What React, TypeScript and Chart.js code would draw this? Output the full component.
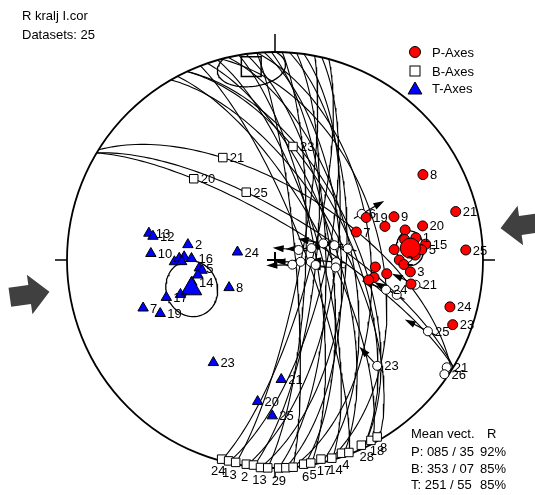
import React, { useEffect, useRef } from "react";
import { Chart, registerables } from "chart.js";

Chart.register(...registerables);

// ---------- header ----------
const fileName = "R kralj I.cor";
const datasetCount = 25;

// ---------- fault planes (great circles): dip direction / dip ----------
const planeDipDirs = [105, 103, 101, 98, 96, 94, 92, 89, 87, 85, 82, 80, 77, 74, 71, 69, 65, 62, 60, 75, 85, 31, 32, 65, 31];
const planeDips = [76, 70, 80, 66, 74, 62, 78, 70, 64, 82, 68, 74, 60, 72, 66, 78, 58, 70, 64, 48, 52, 76, 62, 60, 72];

// ---------- P-axes: trend / plunge / label ----------
const pTrends = [65, 73, 70, 71, 77, 77, 81, 84, 90, 92, 94, 95, 100, 102, 100, 105, 110, 75, 87, 60, 81, 88, 85, 86, 97];
const pPlunges = [50, 44, 39, 56, 36, 28, 32, 28, 40, 38, 50, 35, 50, 52, 34, 14, 10, 11, 9, 19, 37, 33, 42, 30, 45];
const pLabels = ["19", "", "9", "7", "", "20", "1", "15", "2", "", "", "3", "", "", "", "24", "23", "21", "25", "8", "", "", "", "5", ""];

// ---------- T-axes ----------
const tTrends = [282, 281, 273, 280, 269, 271, 272, 269, 271, 264, 262, 259, 255, 250, 251, 250, 245, 282, 239, 211, 177, 187, 181];
const tPlunges = [38, 40, 40, 55, 50, 52, 54, 53, 57, 60, 61, 59, 56, 50, 44, 33, 39, 75, 69, 42, 42, 32, 26];
const tLabels = ["13", "12", "10", "2", "", "", "", "", "16", "5", "", "", "14", "", "17", "7", "19", "24", "8", "23", "21", "20", "25"];

// ---------- B-axes ----------
const bTrends = [333, 315, 337, 9, 195, 193, 191, 188, 186, 184, 182, 179, 177, 175, 172, 170, 167, 164, 161, 159, 155, 152, 150];
const bPlunges = [44, 44, 61, 44, 1, 1, 1, 1, 1, 0, 0, 0, 0, 0, 1, 1, 2, 1, 2, 1, 2, 2, 2];
const bLabels = ["21", "20", "25", "23", "24", "1", "3", "2", "", "13", "", "29", "", "", "6", "5", "17", "14", "4", "", "28", "18", "8"];

// ---------- striae (slip lineations) ----------
const sTrends = [67, 72, 71, 76, 81, 94, 93, 92, 105, 97, 97, 62, 105, 106, 100, 136, 115, 122, 124];
const sPlunges = [80, 75, 70, 66, 61, 80, 76, 66, 83, 74, 66, 51, 44, 39, 32, 30, 20, 3, 2];
const sSlipAz = [275, 268, 280, 265, 285, 270, 262, 275, 268, 280, 272, 60, 290, 300, 295, 317, 297, null, null];
const sLabels = ["", "", "", "", "", "", "", "", "", "", "", "6", "24", "", "21", "23", "25", "21", "26"];

// ---------- mean vectors ----------
const meanNames = ["P", "B", "T"];
const meanTrends = [85, 353, 251];
const meanPlunges = [35, 7, 55];
const meanR = [92, 85, 85];
const coneAngles = [6, 10, 10.5];
const shorteningAz = 82;

const rad = Math.PI / 180;
const FONT = '13px "Liberation Sans", Arial, sans-serif';

function project(trend: number, plunge: number) {
  let t = trend;
  let p = plunge;
  if (p < 0) {
    p = -p;
    t += 180;
  }
  const r = Math.SQRT2 * Math.sin(((90 - p) * rad) / 2);
  return { x: r * Math.sin(t * rad), y: r * Math.cos(t * rad) };
}
function toVec(trend: number, plunge: number) {
  return [
    Math.cos(plunge * rad) * Math.cos(trend * rad),
    Math.cos(plunge * rad) * Math.sin(trend * rad),
    Math.sin(plunge * rad),
  ];
}
function fromVec(v: number[]) {
  const plunge = Math.asin(Math.max(-1, Math.min(1, v[2]))) / rad;
  const trend = Math.atan2(v[1], v[0]) / rad;
  return { trend, plunge };
}
function greatCircle(dd: number, dip: number) {
  const S = toVec(dd - 90, 0);
  const D = toVec(dd, dip);
  const pts: { x: number; y: number }[] = [];
  for (let l = 0; l <= 180; l += 2) {
    const c = Math.cos(l * rad);
    const s = Math.sin(l * rad);
    const v = [c * S[0] + s * D[0], c * S[1] + s * D[1], c * S[2] + s * D[2]];
    const o = fromVec(v);
    pts.push(project(o.trend, o.plunge));
  }
  return pts;
}
function smallCircle(trend: number, plunge: number, alpha: number) {
  const a = toVec(trend, plunge);
  const u = toVec(trend, plunge - 90);
  const w = [a[1] * u[2] - a[2] * u[1], a[2] * u[0] - a[0] * u[2], a[0] * u[1] - a[1] * u[0]];
  const ca = Math.cos(alpha * rad);
  const sa = Math.sin(alpha * rad);
  const pts: { x: number; y: number }[] = [];
  for (let f = 0; f <= 360; f += 4) {
    const cf = Math.cos(f * rad);
    const sf = Math.sin(f * rad);
    const v = [0, 1, 2].map((k) => ca * a[k] + sa * (cf * u[k] + sf * w[k]));
    if (v[2] < 0) {
      pts.push({ x: NaN, y: NaN });
    } else {
      const o = fromVec(v);
      pts.push(project(o.trend, o.plunge));
    }
  }
  return pts;
}

function geom(chart: any) {
  const xs = chart.scales.x;
  const ys = chart.scales.y;
  const cx = xs.getPixelForValue(0);
  const cy = ys.getPixelForValue(0);
  const R = xs.getPixelForValue(1) - cx;
  return { cx, cy, R };
}

function drawTriangle(ctx: CanvasRenderingContext2D, x: number, y: number, r: number) {
  ctx.beginPath();
  ctx.moveTo(x, y - r);
  ctx.lineTo(x + r * Math.sin(120 * rad), y - r * Math.cos(120 * rad));
  ctx.lineTo(x + r * Math.sin(240 * rad), y - r * Math.cos(240 * rad));
  ctx.closePath();
}

const stereoPlugin = {
  id: "stereo",
  beforeDatasetsDraw(chart: any) {
    const { ctx } = chart;
    const { cx, cy, R } = geom(chart);
    ctx.save();
    ctx.strokeStyle = "#000";
    ctx.lineWidth = 1.8;
    ctx.beginPath();
    ctx.arc(cx, cy, R, 0, Math.PI * 2);
    ctx.stroke();
    ctx.lineWidth = 1.5;
    ctx.beginPath();
    ctx.moveTo(cx, cy - R);
    ctx.lineTo(cx, cy - R - 18);
    ctx.moveTo(cx - R, cy);
    ctx.lineTo(cx - R - 12, cy);
    ctx.moveTo(cx + R, cy);
    ctx.lineTo(cx + R + 12, cy);
    ctx.moveTo(cx, cy + R);
    ctx.lineTo(cx, cy + R + 10);
    ctx.stroke();
    ctx.restore();
  },
  beforeDatasetDraw(chart: any, args: any) {
    const ds = chart.data.datasets[args.index];
    if (!ds.slipAz) return;
    const { ctx } = chart;
    const meta = chart.getDatasetMeta(args.index);
    ctx.save();
    ctx.strokeStyle = "#000";
    ctx.fillStyle = "#000";
    ctx.lineWidth = 1.2;
    meta.data.forEach((el: any, i: number) => {
      const az = ds.slipAz[i];
      if (az === null || az === undefined) return;
      const ux = Math.sin(az * rad);
      const uy = -Math.cos(az * rad);
      const px = -uy;
      const py = ux;
      ctx.beginPath();
      ctx.moveTo(el.x - ux * 9, el.y - uy * 9);
      ctx.lineTo(el.x + ux * 20, el.y + uy * 20);
      ctx.stroke();
      ctx.beginPath();
      ctx.moveTo(el.x + ux * 26, el.y + uy * 26);
      ctx.lineTo(el.x + ux * 15 + px * 3.5, el.y + uy * 15 + py * 3.5);
      ctx.lineTo(el.x + ux * 15 - px * 3.5, el.y + uy * 15 - py * 3.5);
      ctx.closePath();
      ctx.fill();
    });
    ctx.restore();
  },
  afterDatasetsDraw(chart: any) {
    const { ctx } = chart;
    const { cx, cy, R } = geom(chart);
    ctx.save();
    // centre cross
    ctx.strokeStyle = "#000";
    ctx.lineWidth = 2;
    ctx.beginPath();
    ctx.moveTo(cx - 8, cy);
    ctx.lineTo(cx + 8, cy);
    ctx.moveTo(cx, cy - 8);
    ctx.lineTo(cx, cy + 8);
    ctx.stroke();

    // shortening arrows
    ctx.fillStyle = "#404040";
    [shorteningAz, shorteningAz + 180].forEach((az) => {
      const ux = Math.sin(az * rad);
      const uy = -Math.cos(az * rad);
      const px = -uy;
      const py = ux;
      const tx = cx + ux * R * 1.095;
      const ty = cy + uy * R * 1.095;
      const shape = [[0, 0], [20, 20], [20, 9.5], [40, 9.5], [40, -9.5], [20, -9.5], [20, -20]];
      ctx.beginPath();
      shape.forEach(([a, b], k) => {
        const X = tx + ux * a + px * b;
        const Y = ty + uy * a + py * b;
        if (k) ctx.lineTo(X, Y);
        else ctx.moveTo(X, Y);
      });
      ctx.closePath();
      ctx.fill();
    });

    // point labels
    ctx.fillStyle = "#000";
    ctx.font = FONT;
    ctx.textBaseline = "middle";
    chart.data.datasets.forEach((ds: any, di: number) => {
      if (!ds.markLabels) return;
      const meta = chart.getDatasetMeta(di);
      meta.data.forEach((el: any, i: number) => {
        const lab = ds.markLabels[i];
        if (!lab) return;
        const d = Math.hypot(el.x - cx, el.y - cy);
        if (ds.rimLabels && d > 0.95 * R) {
          ctx.textAlign = "center";
          ctx.fillText(lab, el.x + ((el.x - cx) / d) * 13, el.y + ((el.y - cy) / d) * 13);
        } else {
          ctx.textAlign = "left";
          ctx.fillText(lab, el.x + 7, el.y + 1);
        }
      });
    });

    // header
    ctx.textBaseline = "alphabetic";
    ctx.textAlign = "left";
    ctx.fillText(fileName, 22, 20);
    ctx.fillText("Datasets: " + datasetCount, 22, 39);

    // legend
    const lx = 415;
    ctx.lineWidth = 1;
    ctx.strokeStyle = "#000";
    ctx.fillStyle = "#ff0000";
    ctx.beginPath();
    ctx.arc(lx, 52, 5.5, 0, Math.PI * 2);
    ctx.fill();
    ctx.stroke();
    ctx.fillStyle = "#ffffff";
    ctx.fillRect(lx - 5, 66, 10, 10);
    ctx.strokeRect(lx - 5, 66, 10, 10);
    ctx.fillStyle = "#0000ff";
    drawTriangle(ctx, lx, 90, 8);
    ctx.fill();
    ctx.stroke();
    ctx.fillStyle = "#000";
    ctx.fillText("P-Axes", 432, 57);
    ctx.fillText("B-Axes", 432, 76);
    ctx.fillText("T-Axes", 432, 93);

    // mean vectors
    const pad = (n: number, w: number) => String(n).padStart(w, "0");
    ctx.fillText("Mean vect.", 411, 438);
    ctx.fillText("R", 487, 438);
    meanNames.forEach((nm, i) => {
      const y = 456 + i * 16.5;
      ctx.fillText(`${nm}: ${pad(meanTrends[i], 3)} / ${pad(meanPlunges[i], 2)}`, 411, y);
      ctx.fillText(`${meanR[i]}%`, 480, y);
    });
    ctx.restore();
  },
};

export default function App() {
  const ref = useRef<HTMLCanvasElement>(null);
  useEffect(() => {
    const canvas = ref.current;
    if (!canvas) return;

    const planeSets = planeDipDirs.map((dd, i) => ({
      data: greatCircle(dd, planeDips[i]),
      showLine: true,
      pointRadius: 0,
      borderColor: "#000",
      borderWidth: 1.1,
      fill: false,
      clip: false,
      order: 6,
    }));
    const coneSets = meanTrends.map((t, i) => ({
      data: smallCircle(t, meanPlunges[i], coneAngles[i]),
      showLine: true,
      pointRadius: 0,
      borderColor: "#000",
      borderWidth: 1.3,
      fill: false,
      clip: false,
      spanGaps: false,
      order: 5,
    }));

    const datasets: any[] = [
      ...planeSets,
      ...coneSets,
      {
        data: sTrends.map((t, i) => project(t, sPlunges[i])),
        slipAz: sSlipAz,
        markLabels: sLabels,
        pointRadius: 4.5,
        pointBackgroundColor: "#ffffff",
        pointBorderColor: "#000",
        pointBorderWidth: 1,
        clip: false,
        order: 4,
      },
      {
        data: bTrends.map((t, i) => project(t, bPlunges[i])),
        markLabels: bLabels,
        rimLabels: true,
        pointStyle: "rect",
        pointRadius: 6,
        pointBackgroundColor: "#ffffff",
        pointBorderColor: "#000",
        pointBorderWidth: 1,
        clip: false,
        order: 3,
      },
      {
        data: pTrends.map((t, i) => project(t, pPlunges[i])),
        markLabels: pLabels,
        pointRadius: 5,
        pointBackgroundColor: "#ff0000",
        pointBorderColor: "#000",
        pointBorderWidth: 1,
        clip: false,
        order: 2,
      },
      {
        data: tTrends.map((t, i) => project(t, tPlunges[i])),
        markLabels: tLabels,
        pointStyle: "triangle",
        pointRadius: 6,
        pointBackgroundColor: "#0000ff",
        pointBorderColor: "#000",
        pointBorderWidth: 1,
        clip: false,
        order: 2,
      },
      {
        data: meanTrends.map((t, i) => project(t, meanPlunges[i])),
        pointStyle: ["circle", "rect", "triangle"],
        pointRadius: [10, 14, 12],
        pointBackgroundColor: ["#ff0000", "rgba(255,255,255,0)", "#0000ff"],
        pointBorderColor: "#000",
        pointBorderWidth: [1, 1.5, 1],
        clip: false,
        order: 1,
      },
    ];

    const chart = new Chart(canvas, {
      type: "scatter",
      data: { datasets },
      options: {
        animation: false,
        responsive: false,
        devicePixelRatio: 1,
        events: [],
        layout: { autoPadding: false, padding: { left: 67, right: 52, top: 52, bottom: 27 } },
        scales: {
          x: { type: "linear", min: -1, max: 1, display: false },
          y: { type: "linear", min: -1, max: 1, display: false },
        },
        plugins: { legend: { display: false }, tooltip: { enabled: false }, title: { display: false } },
      },
      plugins: [stereoPlugin],
    } as any);
    return () => chart.destroy();
  }, []);

  return (
    <div style={{ position: "fixed", left: 0, top: 0, width: 535, height: 495, background: "#fff" }}>
      <canvas ref={ref} width={535} height={495} style={{ display: "block", width: 535, height: 495 }} />
    </div>
  );
}
